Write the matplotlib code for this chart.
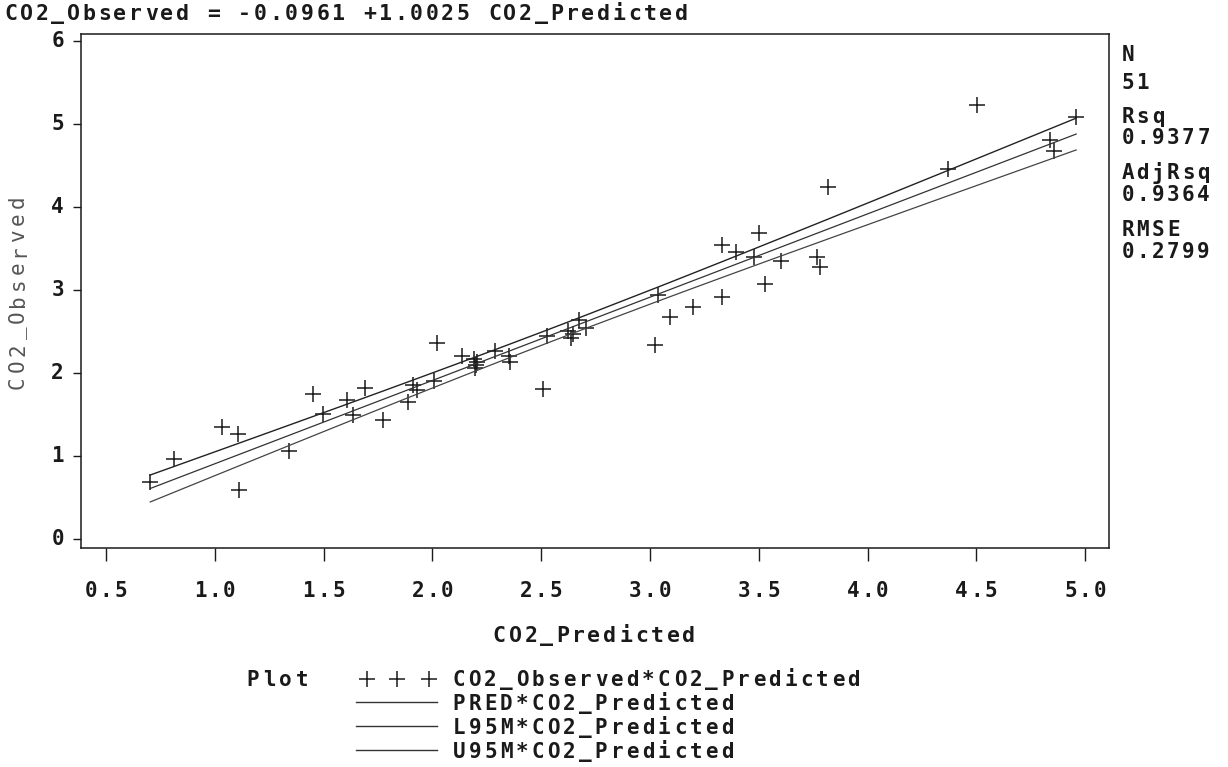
import numpy as np
import matplotlib
matplotlib.use("Agg")
from matplotlib import pyplot as plt

# observed vs predicted CO2
co2_predicted = [0.703, 0.811, 1.032, 1.106, 1.109, 1.341, 1.450, 1.499, 1.606, 1.636,
                 1.689, 1.775, 1.889, 1.911, 1.927, 2.008, 2.023, 2.138, 2.190, 2.200,
                 2.195, 2.205, 2.286, 2.350, 2.358, 2.508, 2.526, 2.622, 2.638, 2.645,
                 2.676, 2.706, 3.024, 3.035, 3.093, 3.196, 3.333, 3.333, 3.394, 3.478,
                 3.499, 3.529, 3.601, 3.766, 3.780, 3.820, 4.368, 4.503, 4.839, 4.855,
                 4.959]
co2_observed = [0.69, 0.96, 1.35, 1.26, 0.59, 1.06, 1.75, 1.51, 1.67, 1.49,
                1.82, 1.43, 1.65, 1.86, 1.80, 1.90, 2.36, 2.20, 2.17, 2.10,
                2.06, 2.13, 2.26, 2.20, 2.13, 1.81, 2.44, 2.50, 2.42, 2.47,
                2.64, 2.54, 2.33, 2.94, 2.67, 2.79, 2.91, 3.54, 3.45, 3.40,
                3.68, 3.07, 3.35, 3.40, 3.27, 4.24, 4.45, 5.22, 4.80, 4.67,
                5.08]

# fit results
intercept = -0.0961
slope = 1.0025
n_obs = 51
rsq = 0.9377
adj_rsq = 0.9364
rmse = 0.2799
t_crit = 2.0096

x_ticks = [0.5, 1.0, 1.5, 2.0, 2.5, 3.0, 3.5, 4.0, 4.5, 5.0]
y_ticks = [0, 1, 2, 3, 4, 5, 6]

x = np.array(co2_predicted)
y = np.array(co2_observed)
xs = np.sort(x)
pred = intercept + slope * xs
sxx = np.sum((x - x.mean()) ** 2)
half = t_crit * rmse * np.sqrt(1.0 / n_obs + (xs - x.mean()) ** 2 / sxx)
l95m = pred - half
u95m = pred + half

mono = "DejaVu Sans Mono"
ink = "#1a1a1a"
W, H = 1228, 767

fig = plt.figure(figsize=(W / 100, H / 100), dpi=100)
ax = fig.add_axes([0.0660, 0.2855, 0.8371, 0.6702])

ax.plot(x, y, linestyle="none", marker="+", markersize=12, markeredgewidth=1.1, color=ink)
ax.plot(xs, pred, color="#333333", lw=0.9)
ax.plot(xs, l95m, color="#444444", lw=0.9)
ax.plot(xs, u95m, color="#222222", lw=1.0)

ax.set_xlim(0.385, 5.11)
ax.set_ylim(-0.108, 6.08)
ax.set_xticks(x_ticks)
ax.set_yticks(y_ticks)
ax.set_xticklabels([])
ax.set_yticklabels([])
for s in ax.spines.values():
    s.set_linewidth(1.1)
    s.set_color(ink)
ax.tick_params(axis="x", direction="out", length=9, width=1, color=ink)
ax.tick_params(axis="y", direction="out", length=6, width=1, color=ink)

# overlay in pixel units for all the text
lg = fig.add_axes([0, 0, 1, 1], facecolor="none")
lg.set_xlim(0, W)
lg.set_ylim(H, 0)
lg.axis("off")


def spaced(x0, y0, s, pitch, align="left", size=15, weight="bold", color=ink, rot=0):
    # fixed-pitch text, one glyph per cell
    n = len(s)
    if align == "center":
        start = -n * pitch / 2
    elif align == "right":
        start = -n * pitch
    else:
        start = 0
    for i, ch in enumerate(s):
        if ch == " ":
            continue
        off = start + (i + 0.5) * pitch
        if rot:
            px, py = x0, y0 - off
        else:
            px, py = x0 + off, y0
        lg.text(px, py, ch, ha="center", va="center", rotation=rot,
                fontfamily=mono, fontweight=weight, fontsize=size, color=color)


def to_px(xv, yv):
    dx, dy = ax.transData.transform((xv, yv))
    return dx, H - dy


for v in x_ticks:
    px, _ = to_px(v, 0)
    spaced(px, 591, "%.1f" % v, 14.7, align="center")
for v in y_ticks:
    _, py = to_px(ax.get_xlim()[0], v)
    spaced(65, py, str(v), 14.7, align="right")

spaced(594, 636, "CO2_Predicted", 15.8, align="center", size=15.5)
spaced(18, 292, "CO2_Observed", 16.4, align="center", size=15, weight="normal",
       color="#555555", rot=90)
spaced(3, 14, "CO2_Observed = -0.0961 +1.0025 CO2_Predicted", 15.6, size=15.5)

# fit statistics down the right side
stats = [("N", 55), (str(n_obs), 83), ("Rsq", 117), ("%.4f" % rsq, 138),
         ("AdjRsq", 173), ("%.4f" % adj_rsq, 195), ("RMSE", 230), ("%.4f" % rmse, 252)]
for txt, py in stats:
    spaced(1120, py, txt, 15.2)

# legend block under the axis
spaced(245, 680, "Plot", 16.2)
lg.plot([367, 397, 429], [679, 679, 679], linestyle="none", marker="+",
        markersize=12, markeredgewidth=1.1, color=ink)
labels = ["CO2_Observed*CO2_Predicted", "PRED*CO2_Predicted",
          "L95M*CO2_Predicted", "U95M*CO2_Predicted"]
rows = [680, 704, 728, 752]
for i, (txt, py) in enumerate(zip(labels, rows)):
    if i > 0:
        lg.plot([356, 437], [py - 2, py - 2], color="#333333", lw=1.0)
    spaced(451, py, txt, 15.8)

fig.savefig("out.png", dpi=100, facecolor="white")
